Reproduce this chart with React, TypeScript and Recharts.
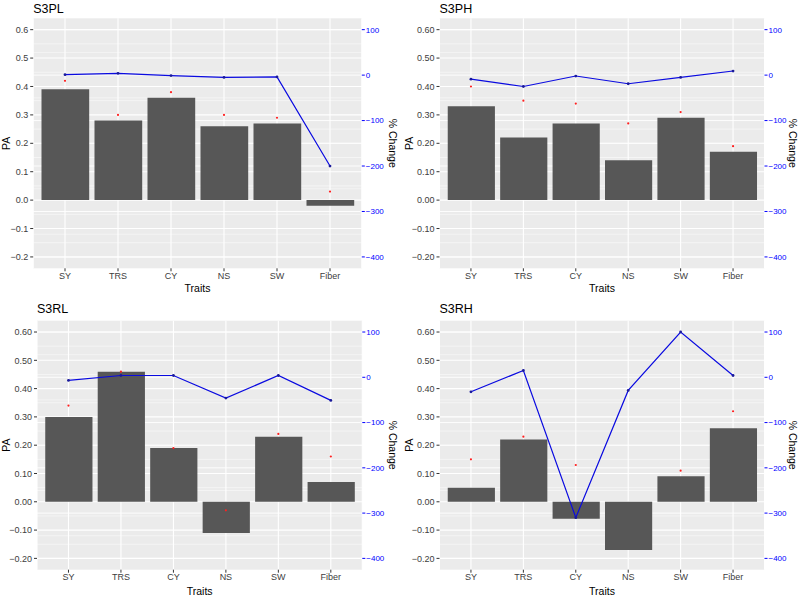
import React from 'react';
import { Bar, CartesianGrid, ComposedChart, Line, XAxis, YAxis } from 'recharts';

// Prediction accuracy (PA) per trait, the red reference markers and the
// % change (blue line, right axis) for the four S3 scenarios.

const traits = ['SY', 'TRS', 'CY', 'NS', 'SW', 'Fiber'];

const s3plPA = [0.39, 0.28, 0.36, 0.26, 0.27, -0.02];
const s3plMark = [0.42, 0.3, 0.38, 0.3, 0.29, 0.03];
const s3plPct = [1, 4, -1, -5, -4, -200];

const s3phPA = [0.33, 0.22, 0.27, 0.14, 0.29, 0.17];
const s3phMark = [0.4, 0.35, 0.34, 0.27, 0.31, 0.19];
const s3phPct = [-9, -25, -2, -19, -5, 9];

const s3rlPA = [0.3, 0.46, 0.19, -0.11, 0.23, 0.07];
const s3rlMark = [0.34, 0.46, 0.19, -0.03, 0.24, 0.16];
const s3rlPct = [-7, 4, 4, -46, 4, -51];

const s3rhPA = [0.05, 0.22, -0.06, -0.17, 0.09, 0.26];
const s3rhMark = [0.15, 0.23, 0.13, null, 0.11, 0.32];
const s3rhPct = [-32, 15, -310, -29, 100, 4];

const paTicks = [0.6, 0.5, 0.4, 0.3, 0.2, 0.1, 0, -0.1, -0.2];
const paMinor = [0.55, 0.45, 0.35, 0.25, 0.15, 0.05, -0.05, -0.15];
const pctTicks = [100, 0, -100, -200, -300, -400];
const pctMinor = [50, -50, -150, -250, -350];

const PA_DOMAIN: [number, number] = [-0.24, 0.64];
// secondary axis: 100 % <-> 0.6 PA, -400 % <-> -0.2 PA
const toPct = (pa: number) => 100 + (pa - 0.6) / 0.0016;
const toPA = (pct: number) => 0.6 + (pct - 100) * 0.0016;
const PCT_DOMAIN: [number, number] = [toPct(PA_DOMAIN[0]), toPct(PA_DOMAIN[1])];

const W = 400;
const H = 298;
const FONT = '"Liberation Sans", Arial, Helvetica, sans-serif';
const minus = (s: string) => s.replace('-', '\u2212');

interface PanelProps {
  title: string;
  pa: number[];
  marks: (number | null)[];
  pct: number[];
  decimals: number;
  left: number;
  right: number;
  top: number;
  bottom: number;
  titleY: number;
  paX: number;
  traitsY: number;
  x: number;
  y: number;
}

function Panel(p: PanelProps) {
  const data = traits.map((t, i) => ({ trait: t, pa: p.pa[i], mark: p.marks[i], pct: p.pct[i] }));
  const unit = (p.right - p.left) / 6.2;
  const cy = (p.top + p.bottom) / 2;
  const cx = (p.left + p.right) / 2;
  return (
    <div style={{ position: 'absolute', left: p.x, top: p.y, width: W, height: H }}>
      <ComposedChart width={W} height={H} data={data} margin={{ top: p.top, right: 0, bottom: 0, left: 0 }}>
        <CartesianGrid fill="#ebebeb" stroke="#ffffff" strokeWidth={1.1} horizontalValues={paTicks} />
        <CartesianGrid stroke="#ffffff" strokeWidth={0.5} vertical={false} horizontalValues={paMinor} />
        <CartesianGrid stroke="#ffffff" strokeWidth={0.9} vertical={false} horizontalValues={pctTicks.map(toPA)} />
        <CartesianGrid stroke="#ffffff" strokeWidth={0.45} vertical={false} horizontalValues={pctMinor.map(toPA)} />
        <XAxis
          dataKey="trait"
          height={H - p.bottom}
          padding={{ left: 0.1 * unit, right: 0.1 * unit }}
          axisLine={false}
          tickSize={3}
          tickMargin={1}
          tickLine={{ stroke: '#333333' }}
          tick={{ fontSize: 9, fill: '#3d3d3d', fontFamily: FONT }}
          interval={0}
        />
        <YAxis
          width={p.left}
          domain={PA_DOMAIN}
          ticks={paTicks}
          allowDataOverflow
          axisLine={false}
          tickSize={3}
          tickMargin={2}
          tickLine={{ stroke: '#333333' }}
          tick={{ fontSize: 9, fill: '#3d3d3d', fontFamily: FONT }}
          tickFormatter={(v: number) => minus(v.toFixed(p.decimals))}
        />
        <YAxis
          yAxisId="right"
          orientation="right"
          width={W - p.right}
          domain={PCT_DOMAIN}
          ticks={pctTicks}
          allowDataOverflow
          axisLine={false}
          tickSize={3}
          tickMargin={1}
          tickLine={{ stroke: '#0000ff' }}
          tick={{ fontSize: 8, fill: '#0000ff', fontFamily: FONT }}
          tickFormatter={(v: number) => minus(String(v))}
        />
        <Bar dataKey="pa" fill="#575757" barSize={0.9 * unit} isAnimationActive={false} />
        <Line
          dataKey="mark"
          stroke="none"
          dot={{ r: 1.1, fill: '#ff2020', stroke: 'none' }}
          activeDot={false}
          isAnimationActive={false}
        />
        <Line
          yAxisId="right"
          dataKey="pct"
          stroke="#0a0ae0"
          strokeWidth={1.2}
          dot={{ r: 1.4, fill: '#1a1a9a', stroke: 'none' }}
          activeDot={false}
          isAnimationActive={false}
        />
      </ComposedChart>
      <svg width={W} height={H} style={{ position: 'absolute', left: 0, top: 0, pointerEvents: 'none' }}>
        <g fontFamily={FONT} fill="#000000">
          <text x={p.left} y={p.titleY} fontSize={12.5}>{p.title}</text>
          <text x={p.paX} y={cy} fontSize={10.5} textAnchor="middle" dominantBaseline="central" transform={`rotate(-90 ${p.paX} ${cy})`}>PA</text>
          <text x={cx} y={p.traitsY} fontSize={10.5} textAnchor="middle" dominantBaseline="central">Traits</text>
          <text x={392.5} y={cy} fontSize={10.5} textAnchor="middle" dominantBaseline="central" transform={`rotate(90 392.5 ${cy})`}>% Change</text>
        </g>
      </svg>
    </div>
  );
}

export default function App() {
  return (
    <div style={{ position: 'absolute', left: 0, top: 0, width: 800, height: 596, background: '#ffffff' }}>
      <Panel title="S3PL" pa={s3plPA} marks={s3plMark} pct={s3plPct} decimals={1}
        left={33.2} right={361.8} top={18.3} bottom={268.3} titleY={13} paX={6.5} traitsY={288.3} x={0} y={0} />
      <Panel title="S3PH" pa={s3phPA} marks={s3phMark} pct={s3phPct} decimals={2}
        left={39.5} right={364.5} top={18.3} bottom={268.3} titleY={13} paX={8.8} traitsY={288.3} x={400} y={0} />
      <Panel title="S3RL" pa={s3rlPA} marks={s3rlMark} pct={s3rlPct} decimals={2}
        left={37} right={362.3} top={22.7} bottom={271.7} titleY={15} paX={6.5} traitsY={292.7} x={0} y={298} />
      <Panel title="S3RH" pa={s3rhPA} marks={s3rhMark} pct={s3rhPct} decimals={2}
        left={39.5} right={364.5} top={22.7} bottom={271.7} titleY={15} paX={8.8} traitsY={292.7} x={400} y={298} />
    </div>
  );
}
